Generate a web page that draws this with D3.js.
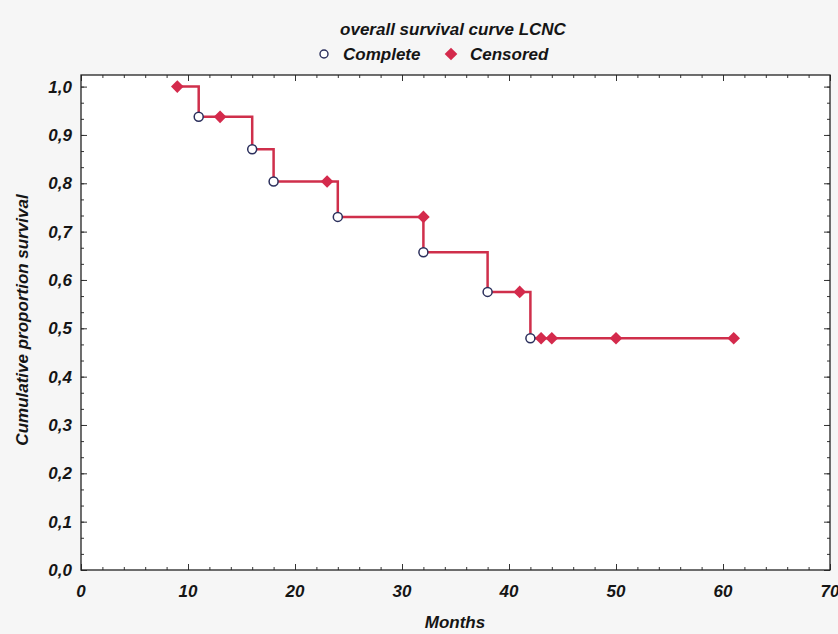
<!DOCTYPE html>
<html>
<head>
<meta charset="utf-8">
<script src="https://cdn.jsdelivr.net/npm/d3@7"></script>
<style>
  body { margin: 0; background: #f6f6f6; }
  svg { display: block; font-family: "Liberation Sans", Arial, sans-serif; }
  .lbl { font-weight: bold; font-style: italic; fill: #151515; }
</style>
</head>
<body>
<svg id="chart"></svg>
<script>
// survival data
const eventMonths = [11, 16, 18, 24, 32, 38, 42];
const eventSurv = [0.9375, 0.8705, 0.8036, 0.7305, 0.6575, 0.5753, 0.4794];
const censMonths = [9, 13, 23, 32, 41, 43, 44, 50, 61];
const censSurv = [1.0, 0.9375, 0.8036, 0.7305, 0.5753, 0.4794, 0.4794, 0.4794, 0.4794];
const xTicks = [0, 10, 20, 30, 40, 50, 60, 70];
const yTicks = [0, 0.1, 0.2, 0.3, 0.4, 0.5, 0.6, 0.7, 0.8, 0.9, 1.0];

var width = 838;
var height = 634;
var margin = { top: 75, right: 8, bottom: 64, left: 81 };

var svg = d3.select('#chart')
  .attr('width', width)
  .attr('height', height);

var x = d3.scaleLinear()
  .domain([0, 70])
  .range([margin.left, width - margin.right]);

var y = d3.scaleLinear()
  .domain([0, 1.024])
  .range([height - margin.bottom, margin.top]);

// plot area
svg.append('rect')
  .attr('x', x(0)).attr('y', y(1.024))
  .attr('width', x(70) - x(0)).attr('height', y(0) - y(1.024))
  .attr('fill', '#ffffff');

// minor + major ticks, pointing inward on all 4 sides
var xMinor = d3.range(0, 70.01, 2);
var yMinor = d3.range(0, 31).map(i => i / 30);

function tickAxis(axis, values, size) {
  return axis.tickValues(values).tickSize(size).tickFormat('').tickSizeOuter(0);
}

var axisG = svg.append('g').attr('class', 'ticks');
axisG.append('g').attr('transform', 'translate(0,' + y(0) + ')').call(tickAxis(d3.axisTop(x), xMinor, 3));
axisG.append('g').attr('transform', 'translate(0,' + y(0) + ')').call(tickAxis(d3.axisTop(x), xTicks, 6));
axisG.append('g').attr('transform', 'translate(0,' + y(1.024) + ')').call(tickAxis(d3.axisBottom(x), xMinor, 3));
axisG.append('g').attr('transform', 'translate(0,' + y(1.024) + ')').call(tickAxis(d3.axisBottom(x), xTicks, 6));
axisG.append('g').attr('transform', 'translate(' + x(0) + ',0)').call(tickAxis(d3.axisRight(y), yMinor, 3));
axisG.append('g').attr('transform', 'translate(' + x(0) + ',0)').call(tickAxis(d3.axisRight(y), yTicks, 6));
axisG.append('g').attr('transform', 'translate(' + x(70) + ',0)').call(tickAxis(d3.axisLeft(y), yMinor, 3));
axisG.append('g').attr('transform', 'translate(' + x(70) + ',0)').call(tickAxis(d3.axisLeft(y), yTicks, 6));
axisG.selectAll('.domain').remove();
axisG.selectAll('line').attr('stroke', '#333').attr('stroke-width', 1);

// frame
svg.append('rect')
  .attr('x', x(0)).attr('y', y(1.024))
  .attr('width', x(70) - x(0)).attr('height', y(0) - y(1.024))
  .attr('fill', 'none').attr('stroke', '#222').attr('stroke-width', 1.3);

// tick labels
svg.append('g').selectAll('text')
  .data(xTicks)
  .join('text')
    .attr('class', 'lbl')
    .attr('x', d => x(d))
    .attr('y', y(0) + 27)
    .attr('text-anchor', 'middle')
    .style('font-size', '17px')
    .text(d => d);

svg.append('g').selectAll('text')
  .data(yTicks)
  .join('text')
    .attr('class', 'lbl')
    .attr('x', x(0) - 9)
    .attr('y', d => y(d) + 6)
    .attr('text-anchor', 'end')
    .style('font-size', '17px')
    .text(d => d3.format('.1f')(d).replace('.', ','));

// survival step line
var stepPts = eventMonths.map((m, i) => [m, eventSurv[i]]);
stepPts.unshift([censMonths[0], censSurv[0]]);
stepPts.push([d3.max(censMonths), censSurv[censSurv.length - 1]]);

var line = d3.line()
  .x(d => x(d[0]))
  .y(d => y(d[1]))
  .curve(d3.curveStepAfter);

svg.append('path')
  .datum(stepPts)
  .attr('d', line)
  .attr('fill', 'none')
  .attr('stroke', '#cf2f4b')
  .attr('stroke-width', 2.5);

// censored diamonds
var diamond = d3.symbol().type(d3.symbolSquare).size(80);
svg.append('g').selectAll('path')
  .data(censMonths.map((m, i) => [m, censSurv[i]]))
  .join('path')
    .attr('d', diamond)
    .attr('transform', d => 'translate(' + x(d[0]) + ',' + y(d[1]) + ') rotate(45)')
    .attr('fill', '#d42a4c');

// complete circles
svg.append('g').selectAll('circle')
  .data(eventMonths.map((m, i) => [m, eventSurv[i]]))
  .join('circle')
    .attr('cx', d => x(d[0]))
    .attr('cy', d => y(d[1]))
    .attr('r', 4.5)
    .attr('fill', '#fff')
    .attr('stroke', '#2b2f5c')
    .attr('stroke-width', 1.5);

// title + legend
svg.append('text')
  .attr('class', 'lbl')
  .attr('x', 453).attr('y', 35)
  .attr('text-anchor', 'middle')
  .style('font-size', '17px')
  .text('overall survival curve LCNC');

svg.append('circle')
  .attr('cx', 324).attr('cy', 54).attr('r', 4)
  .attr('fill', '#fff').attr('stroke', '#2b2f5c').attr('stroke-width', 1.4);
svg.append('text')
  .attr('class', 'lbl')
  .attr('x', 343).attr('y', 60)
  .style('font-size', '17px')
  .text('Complete');

svg.append('path')
  .attr('d', diamond)
  .attr('transform', 'translate(451,54) rotate(45)')
  .attr('fill', '#d42a4c');
svg.append('text')
  .attr('class', 'lbl')
  .attr('x', 470).attr('y', 60)
  .style('font-size', '17px')
  .text('Censored');

// axis titles
svg.append('text')
  .attr('class', 'lbl')
  .attr('transform', 'rotate(-90)')
  .attr('x', -320)
  .attr('y', 28)
  .attr('text-anchor', 'middle')
  .style('font-size', '17px')
  .text('Cumulative proportion survival');

svg.append('text')
  .attr('class', 'lbl')
  .attr('x', 455)
  .attr('y', 628)
  .attr('text-anchor', 'middle')
  .style('font-size', '17px')
  .text('Months');
</script>
</body>
</html>
